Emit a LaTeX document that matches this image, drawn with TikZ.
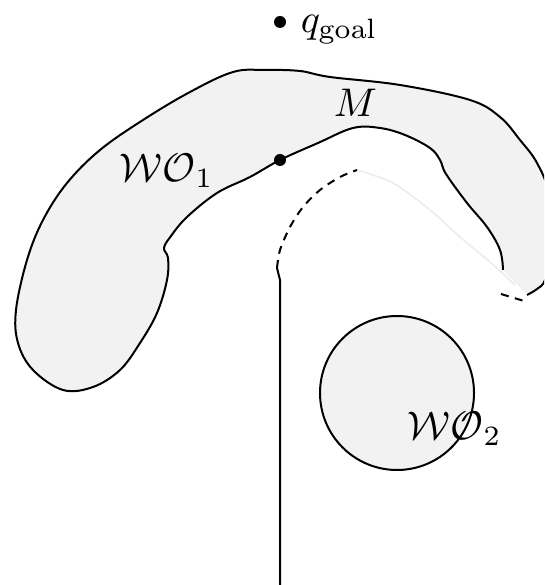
\documentclass[tikz,border=0pt]{standalone}
\usetikzlibrary{calc}
\definecolor{wofill}{RGB}{242,242,242}
\definecolor{faint}{RGB}{236,236,236}
\begin{document}
\begin{tikzpicture}[x=0.25pt,y=-0.25pt,
  outline/.style={line width=0.5pt,line join=round},
  dotnode/.style={circle,fill=black,inner sep=0pt,minimum size=3pt},
  lbl/.style={inner sep=0pt,anchor=base west},
  dashedarc/.style={line width=0.5pt,dash pattern=on 2pt off 1.6pt}]
\useasboundingbox (0,0) rectangle (544,585);
\clip (0,0) rectangle (544,585);
\def\wopts{(503,270) (500,250) (487,227) (467,203) (446,174) (440,160) (430,148) (405,135) (380,128) (353,128) (318,143) (280,160) (250,177) (217,193) (187,217) (171,236) (164,248) (168,258) (167,280) (157,313) (140,343) (120,370) (93,387) (63,390) (33,370) (18,343) (16,310) (27,260) (43,220) (67,183) (100,150) (143,120) (190,92) (233,72) (265,70) (300,71) (330,77) (400,85) (470,100) (500,117) (520,140) (537,163) (549,195) (552,250) (545,280) (537,289) (527,295)}
% obstacle WO1
\fill[wofill] plot[smooth,tension=0.6] coordinates {\wopts} -- cycle;
\draw[outline] plot[smooth,tension=0.6] coordinates {\wopts};
% faint continuation of the arc
\draw[faint,line width=0.4pt] plot[smooth] coordinates {(357,170) (393,183) (430,210) (460,237) (490,262) (515,285)};
% obstacle WO2
\node[circle,draw,fill=wofill,line width=0.5pt,minimum size=38.5pt,inner sep=0pt] (wo2) at (397,393) {};
% path
\coordinate (kink) at (277,268);
\coordinate (low) at (280,280);
\coordinate (bottom) at (280,590);
\draw[line width=0.5pt] (kink) -- (low) -- (bottom);
\draw[dashedarc] plot[smooth] coordinates {(277,268) (280,250) (290,227) (303,207) (320,190) (340,177) (357,170)};
\coordinate (d1) at (501,294);
\coordinate (d2) at (524,301);
\draw[dashedarc] (d1) -- (d2);
% points
\node[dotnode] (m) at (280,160) {};
\node[dotnode] (goal) at (280,22) {};
% labels
\node[lbl] (lgoal) at (300,33) {$q_{\mathrm{goal}}$};
\node[lbl] (lm) at (333,117) {$M$};
\node[lbl] (lwo1) at (119,182) {$\mathcal{WO}_1$};
\node[lbl] (lwo2) at (407,440) {$\mathcal{WO}_2$};
\end{tikzpicture}
\end{document}
